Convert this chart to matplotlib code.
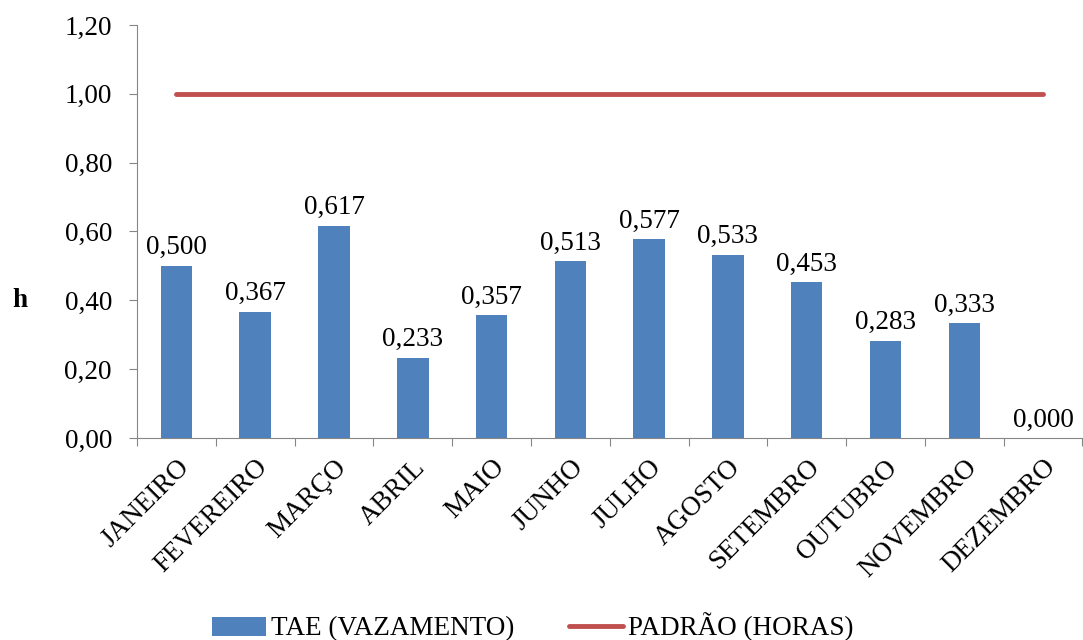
import numpy as np
import matplotlib.pyplot as plt

plt.rcParams['font.family'] = ['Liberation Serif', 'DejaVu Serif']

meses = ['JANEIRO', 'FEVEREIRO', 'MARÇO', 'ABRIL', 'MAIO', 'JUNHO',
         'JULHO', 'AGOSTO', 'SETEMBRO', 'OUTUBRO', 'NOVEMBRO', 'DEZEMBRO']
tae = [0.500, 0.367, 0.617, 0.233, 0.357, 0.513,
       0.577, 0.533, 0.453, 0.283, 0.333, 0.000]
padrao = [1.0] * 12

fs = 19.5

fig = plt.figure(figsize=(10.83, 6.4), dpi=100)
ax = fig.add_axes([0.1265, 0.3156, 0.873, 0.6454])

x = np.arange(len(meses))
bars = ax.bar(x, tae, width=0.4, color='#4F81BD', label='TAE (VAZAMENTO)', zorder=2)
linha, = ax.plot(x, padrao, color='#C0504D', lw=3.5, solid_capstyle='round',
                 label='PADRÃO (HORAS)', zorder=3)

for xi, v in zip(x, tae):
    ax.annotate(('%.3f' % v).replace('.', ','), (xi, v), xytext=(0, 4),
                textcoords='offset points', ha='center', va='bottom', fontsize=fs)

ax.set_ylim(0, 1.2)
ax.set_yticks(np.arange(0, 1.21, 0.2))
ax.set_yticklabels([('%.2f' % t).replace('.', ',') for t in np.arange(0, 1.21, 0.2)],
                   fontsize=fs)
ax.set_xlim(-0.5, len(meses) - 0.5)

# ticks at category boundaries, labels at centers
ax.set_xticks(np.arange(-0.5, len(meses), 1.0))
ax.set_xticklabels([])
ax.set_xticks(x, minor=True)
ax.set_xticklabels(meses, minor=True, rotation=45, ha='right',
                   rotation_mode='anchor', fontsize=fs)
ax.tick_params(axis='x', which='minor', length=0, pad=12)
ax.tick_params(axis='x', which='major', length=6, color='#868686', direction='out')
ax.tick_params(axis='y', length=6, color='#868686', direction='out', pad=12)

for s in ['top', 'right']:
    ax.spines[s].set_visible(False)
for s in ['left', 'bottom']:
    ax.spines[s].set_color('#868686')

fig.text(0.011, 0.53, 'h', fontsize=fs, fontweight='bold', ha='left', va='center')

fig.legend([bars, linha], ['TAE (VAZAMENTO)', 'PADRÃO (HORAS)'],
           loc='center', bbox_to_anchor=(0.492, 0.02), ncol=2, frameon=False,
           fontsize=fs, handlelength=2.0, columnspacing=2.0, handletextpad=0.2)

fig.savefig('out.png', dpi=100)
